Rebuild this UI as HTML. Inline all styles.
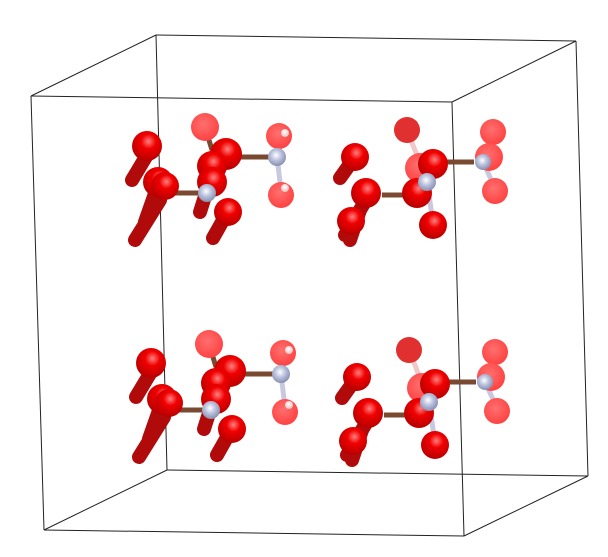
<!DOCTYPE html>
<html><head><meta charset="utf-8"><style>
html,body{margin:0;padding:0;background:#fff;width:608px;height:557px;overflow:hidden}
svg{display:block}
</style></head><body>
<svg id="scene" width="608" height="557" viewBox="0 0 608 557" xmlns="http://www.w3.org/2000/svg">
<defs>
<radialGradient id="gRed" cx="0.55" cy="0.35" r="0.7"><stop offset="0" stop-color="#ff8080"/><stop offset="0.35" stop-color="#f00000"/><stop offset="1" stop-color="#b00000"/></radialGradient>
<radialGradient id="gLight" cx="0.45" cy="0.4" r="0.7"><stop offset="0" stop-color="#ff7070"/><stop offset="1" stop-color="#ff3a3a"/></radialGradient>
<radialGradient id="gN" cx="0.45" cy="0.4" r="0.6"><stop offset="0" stop-color="#ffffff"/><stop offset="0.5" stop-color="#b8c0dc"/><stop offset="1" stop-color="#8890b0"/></radialGradient>
<radialGradient id="gH" cx="0.45" cy="0.4" r="0.6"><stop offset="0" stop-color="#ffffff"/><stop offset="1" stop-color="#e8c0c0"/></radialGradient>
</defs>
<g id="box" stroke="#222" stroke-width="1" fill="none"></g>
<g id="mol"></g>
</svg>
<script>
// unit cell corners (projected)
const cornersBack = [[156,35],[576,41],[588,476],[167,470]];
const cornersFront = [[31,96],[452,102],[464,536],[44,530]];
// group offsets: top-left, bottom-left, top-right, bottom-right
const groupOffsets = [[0,0],[4,217],[0,0],[2,220]];
const groupKinds = ['L','L','R','R'];
const cylL = [[150,150,132,180],[160,200,135,240],[226,215,213,238],[207,190,200,212],[158,185,145,222]];
const bondL = [[165,193,203,193,'#7a4a30'],[236,157,270,157,'#7a4a30'],[277,157,281,190,'#c8c8e0'],[277,157,283,136,'#f0c8c8'],[205,127,212,150,'#7a4a30']];
const atomL = [[205,127,14,'L'],[279,136,13,'L'],[281,195,13,'L'],[226,154,16,'R'],[212,166,15,'R'],[147,146,15,'R'],[158,182,15,'R'],[165,186,14,'R'],[212,182,15,'R'],[228,212,14,'R'],[277,157,9,'N'],[207,193,9,'N'],[285,133,4,'H'],[285,188,4,'H']];
const cylR = [[355,157,340,178],[366,200,345,235],[360,210,350,240]];
const bondR = [[444,162,474,162,'#7a4a30'],[382,195,403,195,'#7a4a30'],[407,130,418,158,'#f0c8c8'],[483,162,493,135,'#c8c8e0'],[483,162,495,188,'#c8c8e0'],[427,182,433,222,'#c8c8e0']];
const atomR = [[407,130,13,'P'],[493,132,13,'L'],[489,157,14,'L'],[495,191,13,'L'],[420,168,15,'L'],[355,157,14,'R'],[366,193,15,'R'],[351,221,14,'R'],[433,164,15,'R'],[417,193,15,'R'],[433,225,14,'R'],[483,162,8,'N'],[427,182,9,'N']];

const NS='http://www.w3.org/2000/svg';
const box=document.getElementById('box');
function line(p,q,parent,attrs){const l=document.createElementNS(NS,'line');l.setAttribute('x1',p[0]);l.setAttribute('y1',p[1]);l.setAttribute('x2',q[0]);l.setAttribute('y2',q[1]);for(const k in attrs)l.setAttribute(k,attrs[k]);parent.appendChild(l);return l;}
for(let i=0;i<4;i++){
  let e=line(cornersBack[i],cornersBack[(i+1)%4],box,{});
  
  
  e=line(cornersFront[i],cornersFront[(i+1)%4],box,{});
  
  
  e=line(cornersBack[i],cornersFront[i],box,{});
  
  
}
const mol=document.getElementById('mol');
const fills={R:'url(#gRed)',L:'url(#gLight)',P:'#e03030',N:'url(#gN)',H:'url(#gH)'};
groupOffsets.forEach((o,gi)=>{
  const g=document.createElementNS(NS,'g');
  
  
  mol.appendChild(g);
  const k=groupKinds[gi];
  const cyl=k==='L'?cylL:cylR, bonds=k==='L'?bondL:bondR, atoms=k==='L'?atomL:atomR;
  cyl.forEach(c=>{
    const l=line([c[0]+o[0],c[1]+o[1]],[c[2]+o[0],c[3]+o[1]],g,{stroke:'#b00a0a','stroke-width':14,'stroke-linecap':'round'});
    
    
  });
  bonds.forEach(b=>{
    const l=line([b[0]+o[0],b[1]+o[1]],[b[2]+o[0],b[3]+o[1]],g,{stroke:b[4],'stroke-width':5});
    
    
  });
  atoms.forEach(a=>{
    const c=document.createElementNS(NS,'circle');
    c.setAttribute('cx',a[0]+o[0]);c.setAttribute('cy',a[1]+o[1]);c.setAttribute('r',a[2]);
    c.setAttribute('fill',fills[a[3]]);
    
    
    g.appendChild(c);
  });
});
</script>
</body></html>
